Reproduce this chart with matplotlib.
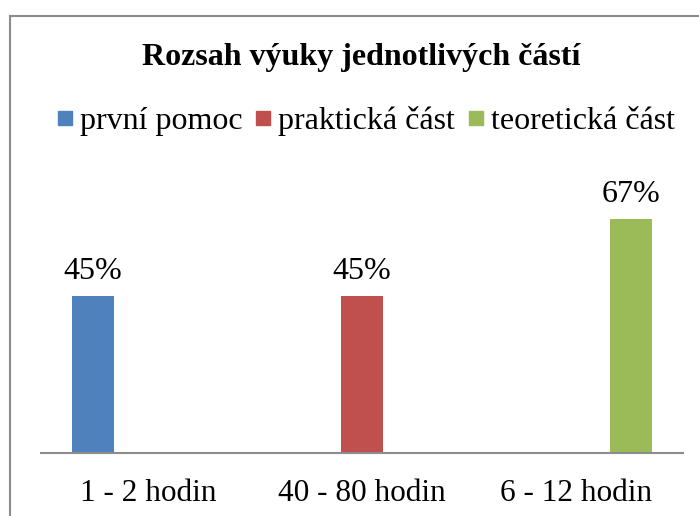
import numpy as np
import matplotlib.pyplot as plt
from matplotlib.lines import Line2D

# Data
kategorie = ['1 - 2 hodin', '40 - 80 hodin', '6 - 12 hodin']
serie = ['první pomoc', 'praktická část', 'teoretická část']
prvni_pomoc = [0.45, np.nan, np.nan]
prakticka_cast = [np.nan, 0.45, np.nan]
teoreticka_cast = [np.nan, np.nan, 0.67]
barvy = ['#4F81BD', '#C0504D', '#9BBB59']

plt.rcParams['font.family'] = ['Liberation Serif', 'DejaVu Serif']

fig = plt.figure(figsize=(6.99, 5.16), dpi=100)
ax = fig.add_axes([41 / 699, 1 - 453 / 516, 642 / 699, 280 / 516])

x = np.arange(len(kategorie))
sirka = 0.2
posun = 0.257
hodnoty = [prvni_pomoc, prakticka_cast, teoreticka_cast]
for i, (nazev, vals, barva) in enumerate(zip(serie, hodnoty, barvy)):
    pozice = x + (i - 1) * posun
    ax.bar(pozice, vals, width=sirka, color=barva, label=nazev)
    for px, v in zip(pozice, vals):
        if not np.isnan(v):
            ax.annotate(f'{v * 100:.0f}%', (px, v), xytext=(0, 7),
                        textcoords='offset points', ha='center', va='bottom',
                        fontsize=23)

ax.set_xlim(-0.5, 2.5)
ax.set_ylim(0, 0.8)
ax.set_xticks(x)
ax.set_xticklabels(kategorie, fontsize=22.5)
ax.tick_params(axis='x', length=0, pad=19)
ax.set_yticks([])
for s in ['top', 'right', 'left']:
    ax.spines[s].set_visible(False)
ax.spines['bottom'].set_color('#8c8c8c')
ax.spines['bottom'].set_linewidth(1.5)

fig.text(361 / 699, 1 - 57 / 516, 'Rozsah výuky jednotlivých částí',
         ha='center', va='center', fontsize=23, fontweight='bold')

handles = [Line2D([], [], marker='s', linestyle='none', markersize=10,
                  color=b) for b in barvy]
fig.legend(handles, serie, loc='center', bbox_to_anchor=(366 / 699, 1 - 121 / 516),
           ncol=3, frameon=False, fontsize=23, handlelength=0.5,
           handletextpad=0.22, columnspacing=0.4, borderpad=0)

# okraj grafu (oriznuty vpravo a dole)
fig.add_artist(Line2D([10 / 699, 10 / 699], [0, 1 - 16 / 516],
                      transform=fig.transFigure, color='#8c8c8c', lw=1.5))
fig.add_artist(Line2D([10 / 699, 1], [1 - 16 / 516, 1 - 16 / 516],
                      transform=fig.transFigure, color='#8c8c8c', lw=1.5))

fig.savefig('out.png', dpi=100)
